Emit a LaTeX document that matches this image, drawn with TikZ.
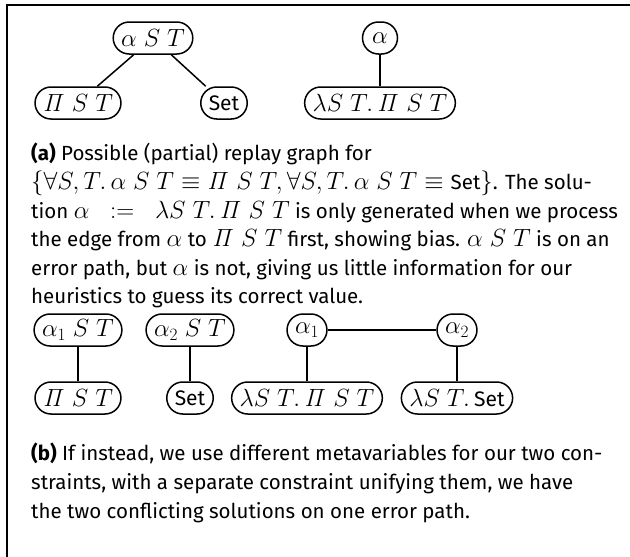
\documentclass[tikz,border=0pt]{standalone}
\usepackage[no-math]{fontspec}
\setmainfont{Fira Sans}
\newcommand{\iPi}{\mathit{\Pi}}
\newcommand{\mm}[1]{{\fontsize{25}{25}\selectfont$#1$}}
\newcommand{\cm}[1]{{\fontsize{23.5}{23.5}\selectfont$#1$}}
\tikzset{
  term/.style={draw, rectangle, rounded corners=16pt, line width=1.5pt,
    minimum height=32pt, minimum width=35pt,
    inner xsep=8pt, inner ysep=2pt, font=\fontsize{21}{24}\selectfont},
  link/.style={line width=1.5pt},
  capt/.style={anchor=north west, align=left, inner sep=0pt,
    font=\fontsize{20.5}{28.6}\selectfont},
  frame/.style={line width=1.5pt}
}
\begin{document}
\begin{tikzpicture}[x=1pt,y=-1pt]
\useasboundingbox (0,0) rectangle (630,557);
\coordinate (c1) at (7,557);
\coordinate (c2) at (7,5);
\coordinate (c3) at (630,5);
\draw[frame] (c1) -- (c2) -- (c3);
% (a)
\node[term] (ast) at (153,38) {\mm{\alpha\;S\;T}};
\node[term] (pst) at (78,103) {\mm{\iPi\;S\;T}};
\node[term] (set) at (224,103) {Set};
\node[term] (al) at (380,38) {\mm{\alpha}};
\node[term] (lam) at (380,103) {\mm{\lambda S\;T.\,\iPi\;S\;T}};
\draw[link] (ast) -- (pst);
\draw[link] (ast) -- (set);
\draw[link] (al) -- (lam);
\node[capt] (capa) at (31,143) {\textbf{(a)} Possible (partial) replay graph for\\
\cm{\{\forall S, T.\,\alpha\;S\;T\equiv\iPi\;S\;T, \forall S, T.\,\alpha\;S\;T\equiv\textrm{\fontsize{20.5}{24}\selectfont Set}\}}. The solu-\\
tion \cm{\alpha\;\;:=\;\;\lambda S\;T.\,\iPi\;S\;T} is only generated when we process\\
the edge from \cm{\alpha} to \cm{\iPi\;S\;T} first, showing bias. \cm{\alpha\;S\;T} is on an\\
error path, but \cm{\alpha} is not, giving us little information for our\\
heuristics to guess its correct value.};
% (b)
\node[term] (a1st) at (78,330) {\mm{\alpha_1\;S\;T}};
\node[term] (a2st) at (190,330) {\mm{\alpha_2\;S\;T}};
\node[term] (a1) at (307,330) {\mm{\alpha_1}};
\node[term] (a2) at (457,330) {\mm{\alpha_2}};
\node[term] (pst2) at (78,398) {\mm{\iPi\;S\;T}};
\node[term] (set2) at (190,398) {Set};
\node[term] (lam1) at (307,398) {\mm{\lambda S\;T.\,\iPi\;S\;T}};
\node[term] (lam2) at (457,398) {\mm{\lambda S\;T.\,}Set};
\draw[link] (a1st) -- (pst2);
\draw[link] (a2st) -- (set2);
\draw[link] (a1) -- (lam1);
\draw[link] (a2) -- (lam2);
\draw[link] (a1) -- (a2);
\node[capt] (capb) at (31,443) {\textbf{(b)} If instead, we use different metavariables for our two con-\\
straints, with a separate constraint unifying them, we have\\
the two conflicting solutions on one error path.};
\end{tikzpicture}
\end{document}
